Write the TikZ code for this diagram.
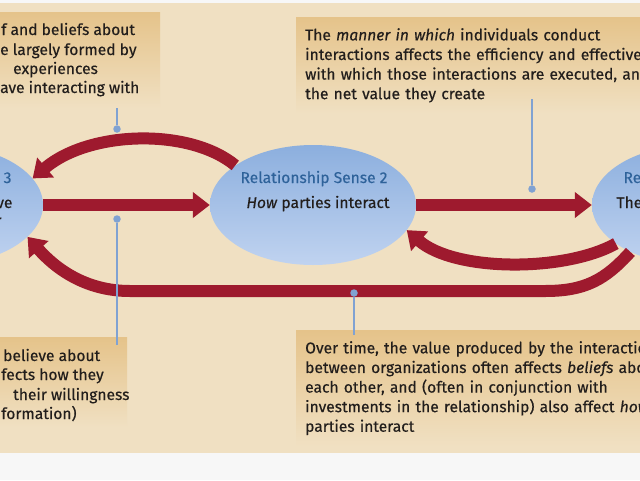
\documentclass[tikz,border=0pt]{standalone}
\usepackage{fontspec}
\setmainfont{Fira Sans}[FakeBold=0.4]
\usetikzlibrary{shapes.geometric,arrows.meta}
\definecolor{parchment}{RGB}{240,224,194}
\definecolor{boxtan}{RGB}{229,195,138}
\definecolor{sensered}{RGB}{158,26,46}
\definecolor{senseblue}{RGB}{46,98,154}
\definecolor{ovaltop}{RGB}{140,175,222}
\definecolor{ovalbottom}{RGB}{192,211,240}
\definecolor{pinblue}{RGB}{128,162,210}
\definecolor{inkgrey}{RGB}{34,30,28}

\tikzset{
  sense/.style={ellipse,minimum width=206pt,minimum height=120pt,inner sep=0pt,
    top color=ovaltop,bottom color=ovalbottom},
  notebox/.style={rectangle,anchor=north west,align=left,inner xsep=9pt,inner ysep=11pt,
    top color=boxtan,bottom color=parchment,text=inkgrey,font=\notefont},
  noteline/.style={anchor=base west,inner sep=0pt,text=inkgrey,font=\notefont},
  flow/.style={draw=sensered,line width=12pt,-{Triangle[length=17pt,width=25pt]}},
  pin/.style={circle,fill=pinblue,inner sep=0pt,minimum size=7.5pt},
  pinline/.style={draw=pinblue,line width=1.1pt},
  title/.style={anchor=base,text=senseblue,font=\notefont},
  body/.style={anchor=base,text=inkgrey,font=\notefont},
}
\newcommand{\notefont}{\fontsize{15.6}{19.6}\selectfont}

\begin{document}
\begin{tikzpicture}[x=1pt,y=-1pt]
  \useasboundingbox (0,0) rectangle (640,480);
  \fill[white!97!black] (0,0) rectangle (640,480);
  \fill[parchment] (0,3) rectangle (640,453);

  % notes
  \node[notebox,minimum width=170pt,minimum height=96pt] (beliefnote) at (-10,12) {};
  \node[noteline] (belief1) at (1,35) {f and beliefs about};
  \node[noteline] (belief2) at (0,55) {e largely formed by};
  \node[noteline] (belief3) at (13,74) {experiences};
  \node[noteline] (belief4) at (0,93) {ave interacting with};
  \node[notebox,text width=340pt] (mannernote) at (296,17)
    {The \emph{manner in which} individuals conduct\\\mbox{interactions affects the efficiency and effectiveness}\\\mbox{with which those interactions are executed, and}\\the net value they create};
  \node[notebox,minimum width=130pt,minimum height=90pt] (trustnote) at (-3,337) {};
  \node[noteline] (trust1) at (3,361) {believe about};
  \node[noteline] (trust2) at (1,380) {fects how they};
  \node[noteline] (trust3) at (13,400) {their willingness};
  \node[noteline] (trust4) at (1,419) {formation)};
  \node[notebox,text width=340pt,minimum height=115pt] (timenote) at (296,330)
    {\mbox{Over time, the value produced by the interactions}\\\mbox{between organizations often affects \emph{beliefs} about}\\each other, and (often in conjunction with\\\mbox{investments in the relationship) also affect \emph{how}}\\parties interact};

  % senses
  \node[sense] (sense3) at (-60,205) {};
  \node[sense] (sense2) at (313,205) {};
  \node[sense] (sense1) at (695,205) {};
  \node[title,anchor=base east] (s3title) at (15,183) {e 3};
  \node[body,anchor=base east] (s3line1) at (16,208) {ve};
  \node[body,anchor=base east] (s3line2) at (5,226) {r};
  \node[title] (s2title) at (314,183) {Relationship Sense 2};
  \node[body] (s2line1) at (318,208) {\emph{How} parties interact};
  \node[title,anchor=base west] (s1title) at (620,183) {Re};
  \node[body,anchor=base west] (s1line1) at (613,208) {The};
  \node[body,anchor=base west] (s1line2) at (636,250) {I};

  % flows
  \draw[flow] (sense2.153) .. controls (190,128) and (90,130) .. (sense3.16);
  \draw[flow] (sense3.east) -- (sense2.west);
  \draw[flow] (sense2.east) -- (sense1.west);
  \draw[flow] (sense1.206) .. controls (565,272) and (455,272) .. (sense2.-15);
  \draw[flow] (sense1.216) .. controls (605,280) and (585,291) .. (545,291)
    -- (130,291) .. controls (85,291) and (55,268) .. (sense3.-20);

  % pins
  \node[pin] (pin1) at (117,129) {};
  \node[pin] (pin2) at (117,219) {};
  \node[pin] (pin3) at (532,189) {};
  \node[pin] (pin4) at (354,293) {};
  \draw[pinline] (pin1) -- (pin1 |- beliefnote.south);
  \draw[pinline] (pin2) -- (pin2 |- trustnote.north) -- +(0,8);
  \draw[pinline] (pin3) -- (pin3 |- 0,99);
  \draw[pinline] (pin4) -- (pin4 |- timenote.north) -- +(0,5);
\end{tikzpicture}
\end{document}
